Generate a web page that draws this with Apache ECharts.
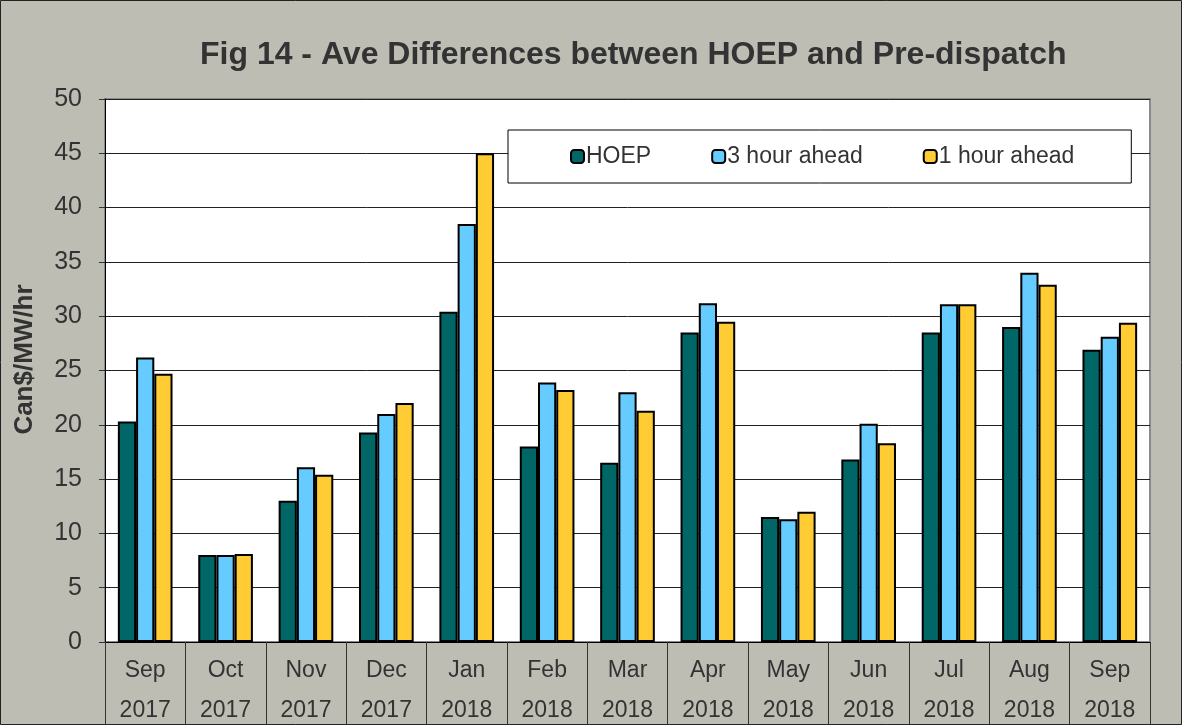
<!DOCTYPE html>
<html>
<head>
<meta charset="utf-8">
<script src="https://cdn.jsdelivr.net/npm/echarts@6/dist/echarts.min.js"></script>
<style>
  html, body { margin: 0; padding: 0; background: #bebdb3; }
  #chart { width: 1182px; height: 725px; }
</style>
</head>
<body>
<div id="chart"></div>
<script>
// months and years on the category axis
var months = ["Sep", "Oct", "Nov", "Dec", "Jan", "Feb", "Mar", "Apr", "May", "Jun", "Jul", "Aug", "Sep"];
var years = ["2017", "2017", "2017", "2017", "2018", "2018", "2018", "2018", "2018", "2018", "2018", "2018", "2018"];

// Can$/MW/hr
var hoep = [20.3, 8.0, 13.0, 19.3, 30.4, 18.0, 16.5, 28.5, 11.5, 16.8, 28.5, 29.0, 26.9];
var threeHour = [26.2, 8.0, 16.1, 21.0, 38.5, 23.9, 23.0, 31.2, 11.3, 20.1, 31.1, 34.0, 28.1];
var oneHour = [24.7, 8.1, 15.4, 22.0, 45.0, 23.2, 21.3, 29.5, 12.0, 18.3, 31.1, 32.9, 29.4];

var font = "Liberation Sans, Arial, sans-serif";

var chart = echarts.init(document.getElementById("chart"));

var categories = months.map(function(m, i) {
  return m + "\n" + years[i];
});

function barSeries(name, data, color) {
  return {
    name: name,
    type: "bar",
    data: data,
    barGap: "0%",
    barCategoryGap: "32%",
    itemStyle: {
      color: color,
      borderColor: "#000",
      borderWidth: 2
    }
  };
}

var option = {
  backgroundColor: "#bebdb3",
  animation: false,
  title: {
    text: "Fig 14 - Ave Differences between HOEP and Pre-dispatch",
    left: 195,
    top: 34,
    textStyle: {
      fontFamily: font,
      fontSize: 32,
      fontWeight: "bold",
      color: "#333"
    }
  },
  legend: {
    left: 508,
    top: 130,
    padding: [15, 57, 15, 62],
    itemGap: 60,
    itemWidth: 13,
    itemHeight: 13,
    backgroundColor: "#fff",
    borderColor: "#000",
    borderWidth: 1,
    textStyle: {
      fontFamily: font,
      fontSize: 23,
      color: "#333",
      padding: [0, 0, 0, -3]
    },
    data: ["HOEP", "3 hour ahead", "1 hour ahead"]
  },
  grid: {
    left: 105,
    right: 32,
    top: 99,
    bottom: 83,
    outerBoundsMode: "none",
    containLabel: false,
    show: true,
    backgroundColor: "#fff",
    borderColor: "#8a8a8a",
    borderWidth: 2
  },
  xAxis: {
    type: "category",
    data: categories,
    axisLine: { show: true, lineStyle: { color: "#000", width: 1 } },
    axisTick: {
      show: true,
      length: 83,
      lineStyle: { color: "#333", width: 1 }
    },
    axisLabel: {
      fontFamily: font,
      fontSize: 23,
      color: "#333",
      margin: 9,
      lineHeight: 40
    }
  },
  yAxis: {
    type: "value",
    min: 0,
    max: 50,
    interval: 5,
    name: "Can$/MW/hr",
    nameLocation: "middle",
    nameGap: 67,
    nameRotate: 90,
    nameTextStyle: {
      fontFamily: font,
      fontSize: 26,
      fontWeight: "bold",
      color: "#333",
      padding: [0, 0, 0, 22]
    },
    axisLine: { show: true, lineStyle: { color: "#000", width: 1 } },
    axisTick: { show: true, inside: false, length: 6, lineStyle: { color: "#333" } },
    axisLabel: {
      fontFamily: font,
      fontSize: 25,
      color: "#333",
      margin: 23
    },
    splitLine: { lineStyle: { color: "#222", width: 1 } }
  },
  graphic: [{
    type: "rect",
    shape: { x: 0.5, y: 0.5, width: 1181, height: 724 },
    style: { fill: null, stroke: "#222", lineWidth: 1 },
    silent: true
  }],
  series: [
    barSeries("HOEP", hoep, "#006666"),
    barSeries("3 hour ahead", threeHour, "#66ccff"),
    barSeries("1 hour ahead", oneHour, "#ffcc33")
  ]
};

chart.setOption(option);
</script>
</body>
</html>
